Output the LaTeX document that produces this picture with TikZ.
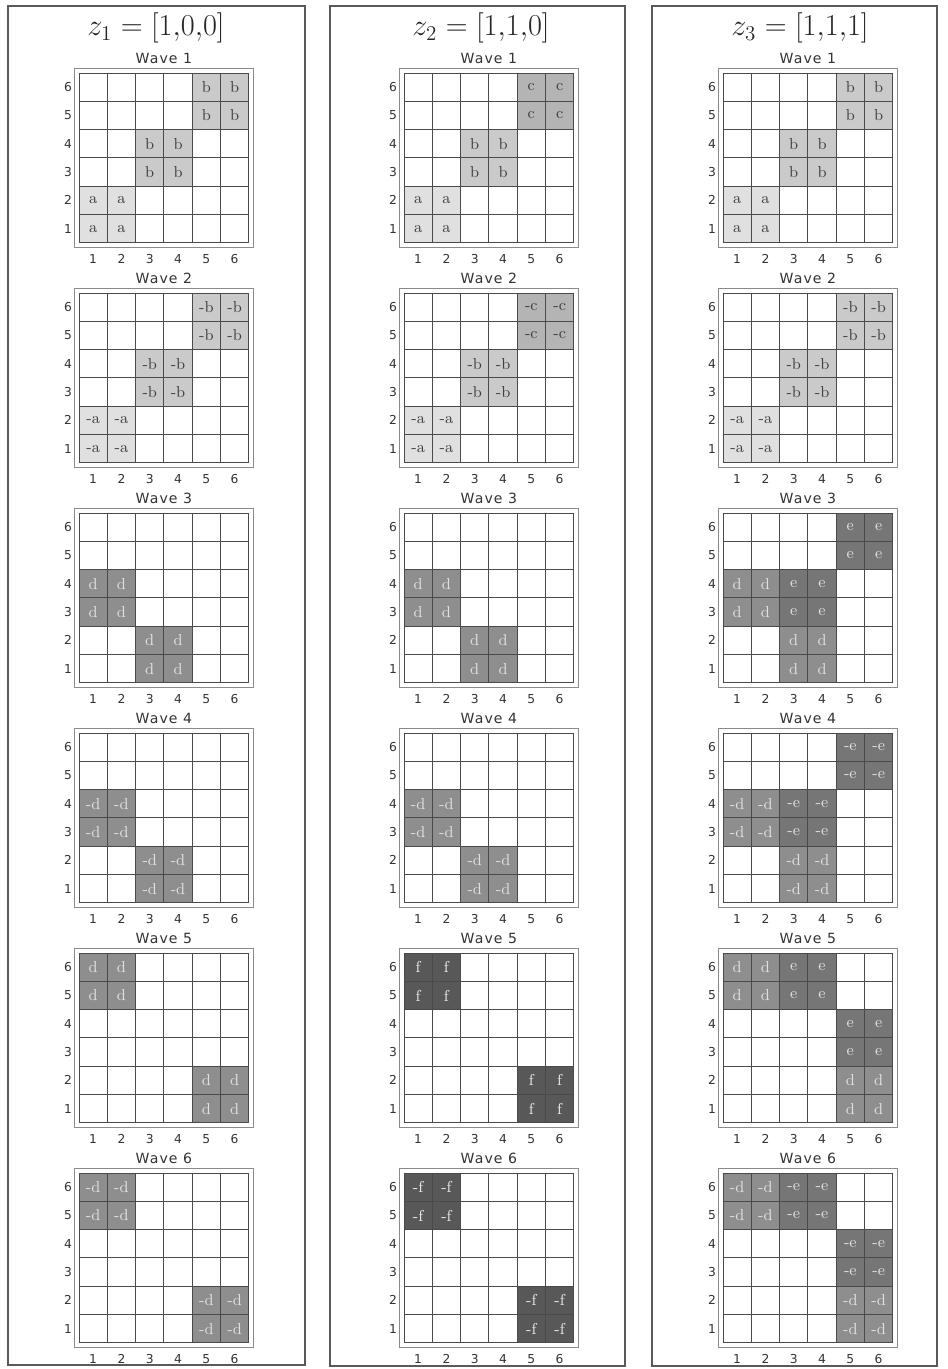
\documentclass[tikz,border=0pt]{standalone}
\usepackage{fontspec}
\newfontfamily\wavefont[LetterSpace=8.0]{DejaVu Sans}
\newfontfamily\axisfont{DejaVu Sans}
\usepackage{xcolor}
\usepackage{tikz}
\usetikzlibrary{calc}
\definecolor{frameline}{HTML}{5A5A5A}
\definecolor{gridline}{HTML}{4A4A4A}
\definecolor{rimline}{HTML}{8A8A8A}
\definecolor{fillA}{HTML}{E0E0E0}
\definecolor{fillB}{HTML}{CACACA}
\definecolor{fillC}{HTML}{B4B4B4}
\definecolor{fillD}{HTML}{8E8E8E}
\definecolor{fillE}{HTML}{767676}
\definecolor{fillF}{HTML}{585858}
\tikzset{
  panel/.style={draw=frameline, line width=0.6pt},
  cellgrid/.style={draw=gridline, line width=0.5pt},
  rim/.style={draw=rimline, line width=0.45pt},
  cell/.style={minimum size=0.566cm, inner sep=0pt, font=\small},
  shadeA/.style={fill=fillA, text=black!75},
  shadeB/.style={fill=fillB, text=black!75},
  shadeC/.style={fill=fillC, text=black!75},
  shadeD/.style={fill=fillD, text=white!88!black},
  shadeE/.style={fill=fillE, text=white!88!black},
  shadeF/.style={fill=fillF, text=white!92!black},
  heading/.style={font=\LARGE, text=black!85},
  wavelabel/.style={font=\wavefont\fontsize{8}{9}\selectfont, text=black!80},
  axisnum/.style={font=\axisfont\fontsize{7}{8}\selectfont, text=black!80, inner sep=1pt}
}
\def\cs{28.3}
% one 6x6 panel: column, wave, list of 2x2 blocks col/row/label/style
\newcommand{\wavepanel}[3]{%
  \ifcase#1\or\def\gx{79}\or\def\gx{404}\or\def\gx{723}\fi
  \pgfmathsetmacro\gy{73+(#2-1)*220}
  \draw[rim] (\gx-5,\gy-5) rectangle (\gx+6*\cs+5,\gy+6*\cs+5);
  \foreach \col/\row/\txt/\sty in {#3}{
    \foreach \dx in {0,1}{
      \foreach \dy in {0,1}{
        \pgfmathtruncatemacro\cx{\col+\dx}
        \pgfmathtruncatemacro\cy{\row+\dy}
        \node[cell,\sty] (cell#1#2-\cx\cy) at (\gx+\cx*\cs-0.5*\cs,\gy+6.5*\cs-\cy*\cs) {\txt};
      }
    }
  }
  \foreach \i in {0,...,6}{
    \draw[cellgrid] (\gx+\i*\cs,\gy) -- (\gx+\i*\cs,\gy+6*\cs);
    \draw[cellgrid] (\gx,\gy+\i*\cs) -- (\gx+6*\cs,\gy+\i*\cs);
  }
  \node[wavelabel] (wave#1#2) at (\gx+3*\cs,\gy-15) {Wave #2};
  \foreach \i in {1,...,6}{
    \node[axisnum] (xnum#1#2-\i) at (\gx+\i*\cs-0.5*\cs,\gy+6*\cs+16) {\i};
    \node[axisnum, anchor=east] (ynum#1#2-\i) at (\gx-5,\gy+6.5*\cs-\i*\cs) {\i};
  }
}

\begin{document}
\begin{tikzpicture}[x=0.02cm,y=-0.02cm]
\path[use as bounding box] (0,0) rectangle (947,1369);
\fill[white] (0,0) rectangle (947,1369);

% column frames and headings
\draw[panel] (8,6) rectangle (305,1365);
\draw[panel] (330,6) rectangle (625,1366);
\draw[panel] (652,6) rectangle (937,1366);
\node[heading] (head1) at (156,28) {$z_{1} = [1{,}0{,}0]$};
\node[heading] (head2) at (481,28) {$z_{2} = [1{,}1{,}0]$};
\node[heading] (head3) at (800,28) {$z_{3} = [1{,}1{,}1]$};

% z1
\wavepanel{1}{1}{1/1/a/shadeA, 3/3/b/shadeB, 5/5/b/shadeB}
\wavepanel{1}{2}{1/1/-a/shadeA, 3/3/-b/shadeB, 5/5/-b/shadeB}
\wavepanel{1}{3}{1/3/d/shadeD, 3/1/d/shadeD}
\wavepanel{1}{4}{1/3/-d/shadeD, 3/1/-d/shadeD}
\wavepanel{1}{5}{1/5/d/shadeD, 5/1/d/shadeD}
\wavepanel{1}{6}{1/5/-d/shadeD, 5/1/-d/shadeD}

% z2
\wavepanel{2}{1}{1/1/a/shadeA, 3/3/b/shadeB, 5/5/c/shadeC}
\wavepanel{2}{2}{1/1/-a/shadeA, 3/3/-b/shadeB, 5/5/-c/shadeC}
\wavepanel{2}{3}{1/3/d/shadeD, 3/1/d/shadeD}
\wavepanel{2}{4}{1/3/-d/shadeD, 3/1/-d/shadeD}
\wavepanel{2}{5}{1/5/f/shadeF, 5/1/f/shadeF}
\wavepanel{2}{6}{1/5/-f/shadeF, 5/1/-f/shadeF}

% z3
\wavepanel{3}{1}{1/1/a/shadeA, 3/3/b/shadeB, 5/5/b/shadeB}
\wavepanel{3}{2}{1/1/-a/shadeA, 3/3/-b/shadeB, 5/5/-b/shadeB}
\wavepanel{3}{3}{1/3/d/shadeD, 3/3/e/shadeE, 3/1/d/shadeD, 5/5/e/shadeE}
\wavepanel{3}{4}{1/3/-d/shadeD, 3/3/-e/shadeE, 3/1/-d/shadeD, 5/5/-e/shadeE}
\wavepanel{3}{5}{1/5/d/shadeD, 3/5/e/shadeE, 5/3/e/shadeE, 5/1/d/shadeD}
\wavepanel{3}{6}{1/5/-d/shadeD, 3/5/-e/shadeE, 5/3/-e/shadeE, 5/1/-d/shadeD}
\end{tikzpicture}
\end{document}
